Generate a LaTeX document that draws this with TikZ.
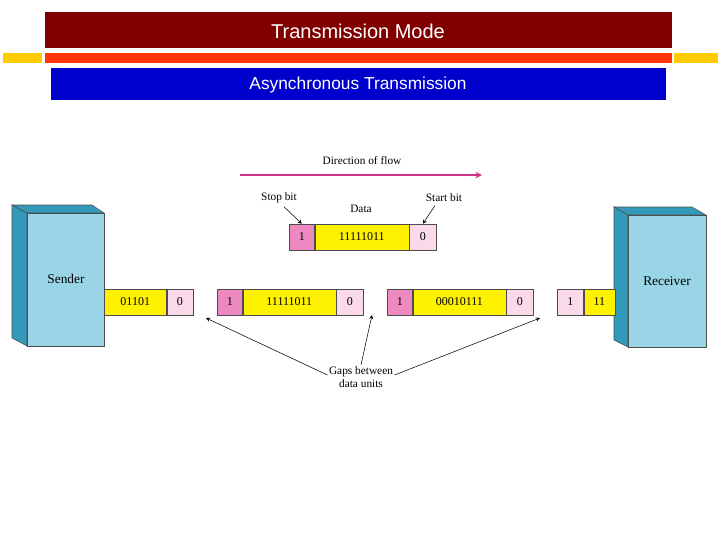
\documentclass[tikz,border=0pt]{standalone}
\usepackage{fontspec}
\setmainfont{Liberation Serif}
\newfontfamily\arialfont{Liberation Sans}
\usetikzlibrary{scopes}
\definecolor{titlered}{HTML}{800000}
\definecolor{barorange}{HTML}{FF3300}
\definecolor{baryellow}{HTML}{FFCC00}
\definecolor{barblue}{HTML}{0000CC}
\definecolor{boxfront}{HTML}{99D5E6}
\definecolor{boxside}{HTML}{3399BB}
\definecolor{bitpink}{HTML}{EE88C0}
\definecolor{bitlight}{HTML}{F9D9EA}
\definecolor{flowmag}{HTML}{CC3388}
\tikzset{
  bit/.style={draw=black!70,minimum height=19.5pt,inner sep=0pt,anchor=west,font=\fontsize{9}{10}\selectfont},
  yb/.style={bit,fill=yellow},
  pb/.style={bit,fill=bitpink},
  lb/.style={bit,fill=bitlight},
  lbl/.style={font=\fontsize{8.5}{10}\selectfont,inner sep=1pt},
  pointer/.style={->,>=stealth}
}
\begin{document}
\begin{tikzpicture}[x=0.75pt,y=-0.75pt]
			\useasboundingbox (0,0) rectangle (720,540);
			\fill [titlered] (45,12) rectangle (672,48);
			\node [text=white,font=\arialfont\fontsize{15}{18}\selectfont] (title) at (358,31) {Transmission Mode};
			\fill [barorange] (45,53) rectangle (672,63);
			\fill [baryellow] (3,53) rectangle (42,63);
			\fill [baryellow] (674,53) rectangle (718,63);
			\fill [barblue] (51,68) rectangle (666,100);
			\node [text=white,font=\arialfont\fontsize{13}{15}\selectfont] (subtitle) at (358,85) {Asynchronous Transmission};
			% sender
			\filldraw [fill=boxside,draw=black!70] (12,205) -- (27,213) -- (27,346) -- (12,338) -- cycle;
			\filldraw [fill=boxside,draw=black!70] (12,205) -- (92,205) -- (104,213) -- (27,213) -- cycle;
			\filldraw [fill=boxfront,draw=black!70] (27,213) rectangle (104,346);
			\node [lbl,font=\fontsize{10}{12}\selectfont] (sender) at (66,279) {Sender};
			% receiver
			\filldraw [fill=boxside,draw=black!70] (614,207) -- (628,215) -- (628,347) -- (614,340) -- cycle;
			\filldraw [fill=boxside,draw=black!70] (614,207) -- (692,207) -- (706,215) -- (628,215) -- cycle;
			\filldraw [fill=boxfront,draw=black!70] (628,215) rectangle (706,347);
			\node [lbl,font=\fontsize{10}{12}\selectfont] (receiver) at (667,281) {Receiver};
			% frame in the stream
			\node [yb,minimum width=46.5pt] (s1) at (104,302) {01101};
			\node [lb,minimum width=19.5pt] (s2) at (s1.east) {0};
			\node [pb,minimum width=18.75pt] (a1) at (217,302) {1};
			\node [yb,minimum width=69.75pt] (a2) at (a1.east) {11111011};
			\node [lb,minimum width=20.25pt] (a3) at (a2.east) {0};
			\node [pb,minimum width=18.75pt] (b1) at (387,302) {1};
			\node [yb,minimum width=69.75pt] (b2) at (b1.east) {00010111};
			\node [lb,minimum width=20.25pt] (b3) at (b2.east) {0};
			\node [lb,minimum width=19.5pt] (c1) at (557,302) {1};
			\node [yb,minimum width=23.25pt] (c2) at (c1.east) {11};
			% single frame
			\node [pb,minimum width=18.75pt] (f1) at (289,237) {1};
			\node [yb,minimum width=70.5pt] (f2) at (f1.east) {11111011};
			\node [lb,minimum width=20.25pt] (f3) at (f2.east) {0};
			\coordinate (flowa) at (240,175);
			\coordinate (flowb) at (482,175);
			\draw [flowmag,line width=1.2pt,-stealth] (flowa) -- (flowb);
			\node [lbl] (flow) at (362,161) {Direction of flow};
			\node [lbl] (stop) at (279,198) {Stop bit};
			\node [lbl] (data) at (361,209) {Data};
			\node [lbl] (start) at (444,198) {Start bit};
			\draw [pointer] (stop.south) ++(5,2) -- (f1.north);
			\draw [pointer] (start.south) ++(-9,2) -- (f3.north);
			\node [lbl,align=center] (gaps) at (361,377) {Gaps between\\data units};
			\coordinate (gap1) at (206,318);
			\coordinate (gap2) at (372,315);
			\coordinate (gap3) at (540,318);
			\draw [pointer] (gaps.west) ++(0,-2) -- (gap1);
			\draw [pointer] (gaps.north) ++(0,0) -- (gap2);
			\draw [pointer] (gaps.east) ++(0,-2) -- (gap3);
		\end{tikzpicture}
\end{document}
